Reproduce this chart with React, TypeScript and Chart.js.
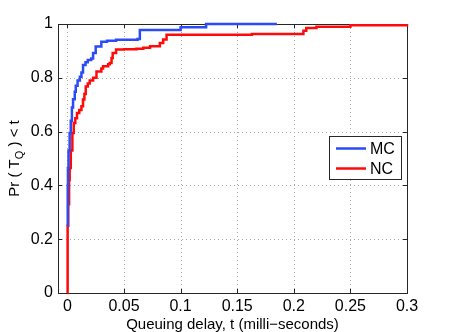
import React, { useEffect, useRef } from "react";
import { Chart, registerables } from "chart.js";

Chart.register(...registerables);

// Empirical CDF of queuing delay, series MC (blue) and NC (red)
const MC_T = [0, 0.0003, 0.0005, 0.001, 0.002, 0.003, 0.004, 0.005, 0.0065, 0.0074, 0.009, 0.011, 0.0124, 0.0138, 0.016, 0.018, 0.021, 0.0227, 0.025, 0.03, 0.035, 0.043, 0.062, 0.064, 0.1, 0.1225, 0.185];
const MC_P = [0.25, 0.4, 0.465, 0.53, 0.595, 0.64, 0.69, 0.72, 0.748, 0.77, 0.79, 0.804, 0.82, 0.848, 0.858, 0.866, 0.872, 0.892, 0.916, 0.934, 0.938, 0.941, 0.944, 0.978, 0.988, 1.0, 1.0];

const NC_T = [0, 0.0002, 0.0008, 0.0015, 0.002, 0.003, 0.0044, 0.0056, 0.007, 0.0085, 0.0105, 0.0124, 0.0138, 0.015, 0.0162, 0.018, 0.0197, 0.0227, 0.0257, 0.03, 0.0315, 0.036, 0.0374, 0.039, 0.04, 0.043, 0.05, 0.061, 0.067, 0.073, 0.0817, 0.0846, 0.0876, 0.163, 0.2085, 0.211, 0.22, 0.25, 0.3];
const NC_P = [0.0, 0.25, 0.33, 0.42, 0.465, 0.53, 0.595, 0.632, 0.65, 0.669, 0.68, 0.694, 0.719, 0.74, 0.768, 0.779, 0.79, 0.8, 0.823, 0.835, 0.843, 0.85, 0.855, 0.874, 0.892, 0.905, 0.906, 0.908, 0.912, 0.917, 0.929, 0.942, 0.96, 0.963, 0.975, 0.985, 0.99, 0.995, 1.0];

const SERIES_LABELS = ["MC", "NC"];
const SERIES_COLORS = ["#2a4bf5", "#ff0a0a"];

const X_TICKS = [0, 0.05, 0.1, 0.15, 0.2, 0.25, 0.3];
const X_TICK_LABELS = ["0", "0.05", "0.1", "0.15", "0.2", "0.25", "0.3"];
const Y_TICKS = [0, 0.2, 0.4, 0.6, 0.8, 1];
const Y_TICK_LABELS = ["0", "0.2", "0.4", "0.6", "0.8", "1"];

const X_TITLE = "Queuing delay, t (milli\u2212seconds)";
const Y_TITLE_PARTS = ["Pr ( T", "Q", " ) < t"];

const FONT = "'Liberation Sans', Arial, Helvetica, sans-serif";

const matlabPlugin = {
  id: "matlabDecor",
  beforeDatasetsDraw(chart: any) {
    const { ctx, chartArea: a, scales } = chart;
    const xs = scales.x;
    const ys = scales.y;
    ctx.save();
    ctx.strokeStyle = "#a8a8a8";
    ctx.lineWidth = 1;
    ctx.setLineDash([1, 3]);
    X_TICKS.forEach((v) => {
      const px = Math.round(xs.getPixelForValue(v)) + 0.5;
      if (px <= a.left + 1 || px >= a.right - 1) return;
      ctx.beginPath();
      ctx.moveTo(px, a.top);
      ctx.lineTo(px, a.bottom);
      ctx.stroke();
    });
    Y_TICKS.forEach((v) => {
      const py = Math.round(ys.getPixelForValue(v)) + 0.5;
      if (py <= a.top + 1 || py >= a.bottom - 1) return;
      ctx.beginPath();
      ctx.moveTo(a.left, py);
      ctx.lineTo(a.right, py);
      ctx.stroke();
    });
    ctx.setLineDash([]);
    // box
    ctx.strokeStyle = "#262626";
    ctx.lineWidth = 1;
    ctx.strokeRect(Math.round(a.left) + 0.5, Math.round(a.top) + 0.5, Math.round(a.right - a.left), Math.round(a.bottom - a.top));
    // inward ticks
    const tl = 4;
    ctx.beginPath();
    X_TICKS.forEach((v) => {
      const px = Math.round(xs.getPixelForValue(v)) + 0.5;
      ctx.moveTo(px, a.bottom);
      ctx.lineTo(px, a.bottom - tl);
      ctx.moveTo(px, a.top);
      ctx.lineTo(px, a.top + tl);
    });
    Y_TICKS.forEach((v) => {
      const py = Math.round(ys.getPixelForValue(v)) + 0.5;
      ctx.moveTo(a.left, py);
      ctx.lineTo(a.left + tl, py);
      ctx.moveTo(a.right, py);
      ctx.lineTo(a.right - tl, py);
    });
    ctx.stroke();
    ctx.restore();
  },
  afterDatasetsDraw(chart: any) {
    const { ctx, chartArea: a } = chart;
    ctx.save();
    ctx.setLineDash([]);

    // x title
    ctx.fillStyle = "#000";
    ctx.font = `15px ${FONT}`;
    ctx.textAlign = "center";
    ctx.textBaseline = "alphabetic";
    ctx.fillText(X_TITLE, (a.left + a.right) / 2, 329);

    // y title with subscript
    ctx.save();
    ctx.translate(19, (a.top + a.bottom) / 2);
    ctx.rotate(-Math.PI / 2);
    const mainFont = `15px ${FONT}`;
    const subFont = `11px ${FONT}`;
    ctx.font = mainFont;
    const w0 = ctx.measureText(Y_TITLE_PARTS[0]).width;
    const w2 = ctx.measureText(Y_TITLE_PARTS[2]).width;
    ctx.font = subFont;
    const w1 = ctx.measureText(Y_TITLE_PARTS[1]).width;
    let x0 = -(w0 + w1 + w2) / 2;
    ctx.textAlign = "left";
    ctx.font = mainFont;
    ctx.fillText(Y_TITLE_PARTS[0], x0, 0);
    x0 += w0;
    ctx.font = subFont;
    ctx.fillText(Y_TITLE_PARTS[1], x0, 4);
    x0 += w1;
    ctx.font = mainFont;
    ctx.fillText(Y_TITLE_PARTS[2], x0, 0);
    ctx.restore();

    // legend
    const lx = 329.5, ly = 136.5, lw = 72, lh = 43;
    ctx.fillStyle = "#fff";
    ctx.fillRect(lx, ly, lw, lh);
    ctx.strokeStyle = "#262626";
    ctx.lineWidth = 1;
    ctx.strokeRect(lx, ly, lw, lh);
    ctx.font = `16px ${FONT}`;
    ctx.textAlign = "left";
    ctx.textBaseline = "middle";
    SERIES_LABELS.forEach((lab, i) => {
      const yy = 148.5 + i * 20;
      ctx.strokeStyle = SERIES_COLORS[i];
      ctx.lineWidth = 2.5;
      ctx.beginPath();
      ctx.moveTo(336, yy);
      ctx.lineTo(366, yy);
      ctx.stroke();
      ctx.fillStyle = "#000";
      ctx.fillText(lab, 370, yy + 1);
    });
    ctx.restore();
  },
};

export default function App() {
  const ref = useRef<HTMLCanvasElement | null>(null);

  useEffect(() => {
    if (!ref.current) return;
    const mk = (ts: number[], ps: number[]) => ts.map((t, i) => ({ x: t, y: ps[i] }));
    const chart = new Chart(ref.current, {
      type: "line",
      data: {
        datasets: [
          {
            label: SERIES_LABELS[0],
            data: mk(MC_T, MC_P),
            borderColor: SERIES_COLORS[0],
            borderWidth: 2.5,
            pointRadius: 0,
            stepped: "before",
            fill: false,
            clip: false,
          },
          {
            label: SERIES_LABELS[1],
            data: mk(NC_T, NC_P),
            borderColor: SERIES_COLORS[1],
            borderWidth: 2.5,
            pointRadius: 0,
            stepped: "before",
            fill: false,
            clip: false,
          },
        ],
      },
      options: {
        animation: false,
        responsive: false,
        maintainAspectRatio: false,
        layout: { padding: { top: 24, right: 42, left: 0, bottom: 0 } },
        plugins: { legend: { display: false }, tooltip: { enabled: false }, title: { display: false } },
        scales: {
          x: {
            type: "linear",
            min: -0.0083,
            max: 0.3,
            grid: { display: false, drawTicks: false },
            border: { display: false },
            afterBuildTicks: (s: any) => {
              s.ticks = X_TICKS.map((v) => ({ value: v }));
            },
            afterFit: (s: any) => {
              s.height = 39;
            },
            ticks: {
              padding: 4,
              color: "#000",
              maxRotation: 0,
              autoSkip: false,
              font: { family: FONT, size: 16 },
              callback: (_v: any, i: number) => X_TICK_LABELS[i],
            },
          },
          y: {
            type: "linear",
            min: 0,
            max: 1,
            grid: { display: false, drawTicks: false },
            border: { display: false },
            afterBuildTicks: (s: any) => {
              s.ticks = Y_TICKS.map((v) => ({ value: v }));
            },
            afterFit: (s: any) => {
              s.width = 58;
            },
            ticks: {
              padding: 5,
              color: "#000",
              autoSkip: false,
              font: { family: FONT, size: 16 },
              callback: (_v: any, i: number) => Y_TICK_LABELS[i],
            },
          },
        },
      },
      plugins: [matlabPlugin],
    });
    return () => chart.destroy();
  }, []);

  return (
    <div style={{ position: "fixed", left: 0, top: 0, width: 449, height: 332, background: "#fff" }}>
      <canvas ref={ref} width={449} height={332} style={{ width: 449, height: 332, display: "block" }} />
    </div>
  );
}
